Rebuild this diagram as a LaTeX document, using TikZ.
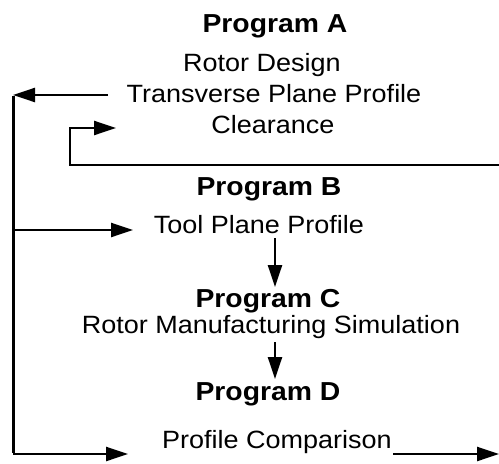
\documentclass[tikz,border=0pt]{standalone}
\usepackage{fontspec}
\setmainfont{Liberation Sans}
\newfontfamily\regfont[FakeStretch=1.08]{Liberation Sans}
\newfontfamily\headfont[FakeStretch=1.09]{Liberation Sans Bold}
\usetikzlibrary{arrows.meta}
\begin{document}
\begin{tikzpicture}[x=1pt,y=-1pt,
  head/.style={anchor=base,inner sep=0pt,font=\headfont\fontsize{26}{30}\selectfont},
  txt/.style={anchor=base,inner sep=0pt,font=\regfont\fontsize{25}{30}\selectfont},
  arr/.style={line width=2.4pt,-{Triangle[length=22pt,width=14pt]}},
  spine/.style={line width=3pt}]
\useasboundingbox (0,0) rectangle (499,464);
% texts
\node[head] (pa) at (275,32) {Program A};
\node[txt] (rd) at (262,71) {Rotor Design};
\node[txt] (tpp) at (274,102) {Transverse Plane Profile};
\node[txt] (cl) at (273,133) {Clearance};
\node[head] (pb) at (269,195) {Program B};
\node[txt] (tool) at (259,233) {Tool Plane Profile};
\node[head] (pc) at (268,307) {Program C};
\node[txt] (rms) at (271,333) {Rotor Manufacturing Simulation};
\node[head] (pd) at (268,400) {Program D};
\node[txt] (cmp) at (277,448) {Profile Comparison};
% coordinates
\coordinate (tS) at (108,95);
\coordinate (tL) at (13,95);
\coordinate (bL) at (13,454);
\coordinate (mL) at (13,230);
\coordinate (mE) at (133,230);
\coordinate (bE) at (128,454);
\coordinate (rS) at (499,165);
\coordinate (c1) at (70,165);
\coordinate (c2) at (70,128);
\coordinate (c3) at (116,128);
\coordinate (d1s) at (275,238);
\coordinate (d1e) at (275,287);
\coordinate (d2s) at (275,342);
\coordinate (d2e) at (275,379);
\coordinate (pS) at (393,454);
\coordinate (pE) at (499,454);
% connectors
\draw[arr] (tS) -- (tL);
\draw[spine] ([yshift=-1.2pt]tL) -- ([yshift=1.2pt]bL);
\draw[arr] (mL) -- (mE);
\draw[arr] (bL) -- (bE);
\draw[arr] (rS) -- (c1) -- (c2) -- (c3);
\draw[arr] (d1s) -- (d1e);
\draw[arr] (d2s) -- (d2e);
\draw[arr] (pS) -- (pE);
\end{tikzpicture}
\end{document}
